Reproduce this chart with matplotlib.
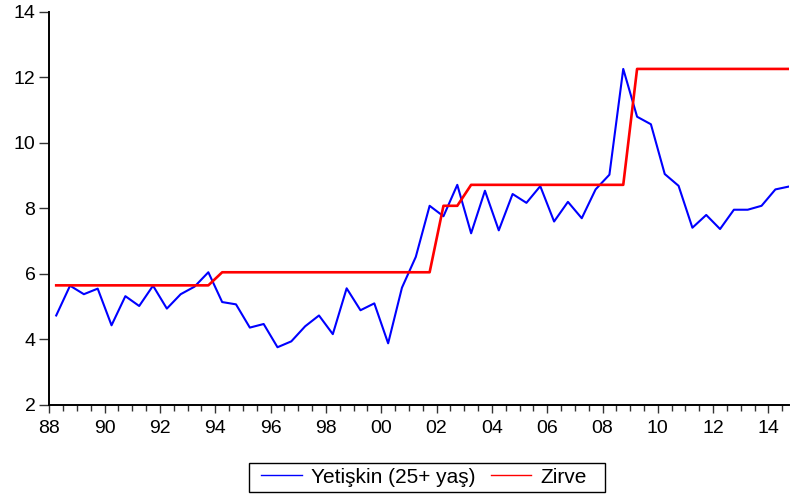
import numpy as np
import matplotlib
matplotlib.use("Agg")
import matplotlib.pyplot as plt
from matplotlib.patches import Rectangle
from matplotlib.ticker import MultipleLocator

# yarim yillik veriler, 1988H1 - 2014H2
baslangic = 1988
yetiskin = [4.73, 5.64, 5.38, 5.55, 4.43, 5.32, 5.02, 5.64, 4.94, 5.38,
            5.61, 6.05, 5.14, 5.07, 4.36, 4.47, 3.76, 3.94, 4.40, 4.73,
            4.16, 5.56, 4.89, 5.10, 3.88, 5.58, 6.52, 8.08, 7.76, 8.72,
            7.24, 8.54, 7.33, 8.44, 8.17, 8.68, 7.60, 8.20, 7.70, 8.58,
            9.03, 12.26, 10.80, 10.57, 9.05, 8.69, 7.41, 7.80, 7.37, 7.96,
            7.96, 8.08, 8.58, 8.67]
zirve = [5.65] * 12 + [6.05] * 16 + [8.08] * 2 + [8.72] * 12 + [12.26] * 12
yil_etiketleri = ["88", "90", "92", "94", "96", "98", "00", "02",
                  "04", "06", "08", "10", "12", "14"]

x = baslangic + 0.25 + 0.5 * np.arange(len(yetiskin))

plt.rcParams['font.family'] = ['Liberation Sans', 'DejaVu Sans']

W, H = 790, 498
fig = plt.figure(figsize=(W / 100, H / 100), dpi=100)
ax = fig.add_axes([0.0624, 0.187, 0.9366, 0.789])

ax.plot(x, yetiskin, color='#0000ff', lw=1.5, label='Yetişkin (25+ yaş)')
ax.plot(x, zirve, color='#ff0000', lw=1.9, label='Zirve')

ax.set_xlim(baslangic, x[-1])
ax.set_ylim(2, 14)
ax.set_yticks([2, 4, 6, 8, 10, 12, 14])
ax.set_xticks(np.arange(1988, 2015, 2))
ax.set_xticklabels(yil_etiketleri)
ax.xaxis.set_minor_locator(MultipleLocator(0.5))

for s in ['top', 'right']:
    ax.spines[s].set_visible(False)
for s in ['left', 'bottom']:
    ax.spines[s].set_linewidth(1.4)

ax.tick_params(axis='both', labelsize=14, direction='out', width=1, color='#333333')
ax.tick_params(axis='x', which='major', length=6, pad=5)
ax.tick_params(axis='x', which='minor', length=4, width=1, color='#333333')
ax.tick_params(axis='y', length=7, pad=3)

# lejant: cerceve ayri ciziliyor (sag bosluk soldan genis)
leg = fig.legend(loc='center left', bbox_to_anchor=(261 / W, 1 - 477 / H), ncol=2,
                 fontsize=15, frameon=False, handlelength=1.95, handletextpad=0.45,
                 columnspacing=0.72, borderpad=0, borderaxespad=0)
for h in leg.get_lines():
    h.set_linewidth(1.0)
fig.patches.append(Rectangle((249 / W, 1 - 492 / H), 356 / W, 29 / H,
                             transform=fig.transFigure, fill=False,
                             edgecolor='black', lw=1.0))

fig.savefig('out.png', dpi=100)
